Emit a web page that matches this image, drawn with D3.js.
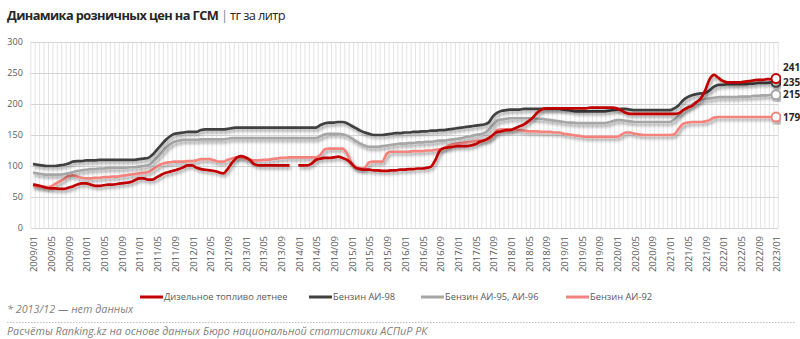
<!DOCTYPE html>
<html><head><meta charset="utf-8">
<script src="https://cdn.jsdelivr.net/npm/d3@7"></script>
<style>
body{margin:0;background:#fff;}
text{font-family:"Open Sans",sans-serif;}
</style></head>
<body><svg id="c" width="800" height="339"></svg>
<script>
const years = [2009,2010,2011,2012,2013,2014,2015,2016,2017,2018,2019,2020,2021,2022,2023];
const monthCodes = ["01","02","03","04","05","06","07","08","09","10","11","12"];
const tickLabels = ["2009/01","2009/05","2009/09","2010/01","2010/05","2010/09","2011/01","2011/05","2011/09","2012/01","2012/05","2012/09","2013/01","2013/05","2013/09","2014/01","2014/05","2014/09","2015/01","2015/05","2015/09","2016/01","2016/05","2016/09","2017/01","2017/05","2017/09","2018/01","2018/05","2018/09","2019/01","2019/05","2019/09","2020/01","2020/05","2020/09","2021/01","2021/05","2021/09","2022/01","2022/05","2022/09","2023/01"];
const yTicks = [0,50,100,150,200,250,300];
const seriesNames = ["Дизельное топливо летнее","Бензин АИ-98","Бензин АИ-95, АИ-96","Бензин АИ-92"];
const seriesColors = ["#c00000","#404040","#a6a6a6","#f4837d"];

const diesel = [
70,69,67,65,64,64,63,63,65,67,70,72,
72,70,68,68,69,70,70,71,72,73,74,77,
80,80,78,78,82,86,89,91,93,95,98,101,
101,97,95,94,93,92,90,88,95,105,113,116,
114,110,103,101,101,101,101,101,101,101,101,null,
101,101,101,104,110,112,113,113,114,115,113,110,
104,97,95,94,94,93,93,92,92,93,93,94,
94,95,95,96,96,97,99,110,125,129,130,131,
132,132,132,133,135,139,141,145,150,155,156,158,
158,161,164,167,172,178,186,191,193,193,193,193,
193,193,193,193,193,193,194,194,194,194,194,194,
193,190,186,184,184,184,184,184,184,184,184,184,
184,184,185,190,194,197,203,209,222,240,247,242,
237,235,235,235,235,236,237,238,239,239,240,240,
241];
const ai98 = [
103,102,101,100,100,100,101,102,104,107,108,108,
109,109,109,110,110,110,110,110,110,110,110,110,
111,112,113,118,126,134,142,148,152,153,154,155,
155,155,158,159,159,159,159,159,160,161,162,162,
162,162,162,162,162,162,162,162,162,162,162,162,
162,162,162,162,162,166,169,170,170,171,171,169,
165,161,157,154,152,150,150,150,151,152,153,153,
154,154,155,155,156,156,157,157,158,158,159,160,
161,162,163,164,165,166,167,170,180,186,189,190,
191,191,191,192,192,192,192,192,192,192,192,192,
191,190,189,188,188,188,188,188,188,188,189,190,
191,192,192,191,190,190,190,190,190,190,190,190,
190,193,198,206,211,214,216,217,218,222,228,231,
231,232,232,232,232,232,233,233,234,234,234,235,
235];
const ai95 = [
89,88,87,86,86,86,86,87,88,90,92,93,
94,95,95,96,96,97,97,97,97,97,98,98,
99,100,101,106,113,121,129,135,139,141,142,142,
142,142,143,143,143,143,143,143,144,145,145,145,
145,145,145,145,145,145,145,145,145,145,145,145,
145,145,145,145,145,148,151,152,152,152,151,149,
145,140,136,133,131,131,131,132,133,134,135,136,
136,137,137,138,138,139,139,140,141,141,142,143,
144,145,147,148,150,151,153,158,166,173,175,176,
177,177,177,177,177,177,176,176,175,174,173,172,
171,170,170,169,169,169,169,169,169,169,170,172,
174,174,173,172,171,171,171,171,171,171,171,171,
171,175,182,190,195,199,203,206,208,209,210,211,
211,211,211,211,212,212,212,213,213,214,214,215,
215];
const ai92 = [
68,67,67,66,67,71,75,79,84,85,83,81,
80,80,81,81,82,82,83,83,84,85,86,87,
88,89,90,94,99,103,105,106,107,107,107,108,
108,109,111,111,111,109,107,107,110,112,114,114,
112,110,109,109,110,110,111,112,113,113,114,114,
114,114,114,114,114,118,127,128,128,128,128,120,
105,98,96,97,106,107,107,107,120,123,123,123,
123,123,124,124,124,125,125,126,127,129,133,135,
136,137,138,139,140,141,142,143,150,158,159,159,
159,159,158,157,156,156,156,155,155,155,154,154,
152,151,150,149,148,147,147,147,147,147,147,147,
147,150,154,154,152,151,150,150,150,150,150,150,
150,151,160,168,170,171,171,171,172,174,178,179,
179,179,179,179,179,179,179,179,179,179,179,179,
179];
const endLabels = ["241","235","215","179"];

const categories = [];
years.forEach(y => monthCodes.forEach(m => { if (y < 2023 || m === "01") categories.push(y + "/" + m); }));

const svg = d3.select("#c");
const x = d3.scalePoint().domain(categories).range([33, 776]);
const step = x.step();
const y = d3.scaleLinear().domain([0, 300]).range([228, 42]);

const defs = svg.append("defs");
const f = defs.append("filter").attr("id","sh").attr("x","-5%").attr("y","-20%").attr("width","110%").attr("height","150%");
f.append("feDropShadow").attr("dx",1.5).attr("dy",2.5).attr("stdDeviation",1.4).attr("flood-color","#000").attr("flood-opacity",0.35);

// title
const title = svg.append("text").attr("x",7).attr("y",20).style("font-size","12.8px").style("letter-spacing","-0.6px").attr("fill","#262626");
title.append("tspan").style("font-weight","700").text("Динамика розничных цен на ГСМ");
title.append("tspan").attr("fill","#7f7f7f").text(" | ");
title.append("tspan").text("тг за литр");

// vertical grid
const g = svg.append("g");
g.selectAll("line.v").data(d3.range(categories.length + 1)).enter().append("line")
  .attr("x1", i => 33 + (i - 0.5) * step).attr("x2", i => 33 + (i - 0.5) * step)
  .attr("y1", y(300)).attr("y2", y(0)).attr("stroke","#e3e3e3").attr("stroke-width",1);

// y axis with grid
const yAxis = svg.append("g").attr("transform","translate(" + (33 - 0.5*step) + ",0)")
  .call(d3.axisLeft(y).tickValues(yTicks).tickSize(-(743 + step)).tickPadding(8));
yAxis.select(".domain").remove();
yAxis.selectAll(".tick line").attr("stroke","#d4d4d4");
yAxis.selectAll(".tick text").attr("fill","#595959").style("font-size","9px");

// x axis
const xAxis = svg.append("g").attr("transform","translate(0," + y(0) + ")")
  .call(d3.axisBottom(x).tickValues(tickLabels).tickSize(0));
xAxis.select(".domain").remove();
xAxis.selectAll(".tick text").attr("fill","#595959").style("font-size","9.5px")
  .attr("transform","rotate(-90)").attr("text-anchor","end")
  .attr("x",-8).attr("y",0).attr("dy","0.35em").attr("dx",0);
xAxis.selectAll(".tick").attr("transform", d => "translate(" + (x(d) + 1) + ",0)");

// lines
const allSeries = [diesel, ai98, ai95, ai92];
const order = [3,2,1,0];
const line = d3.line().defined(d => d != null).x((d,i) => x(categories[i])).y(d => y(d)).curve(d3.curveMonotoneX);
const lg = svg.append("g");
order.forEach(k => {
  lg.append("path").datum(allSeries[k]).attr("d", line).attr("fill","none")
    .attr("stroke", seriesColors[k]).attr("stroke-width",2.7).attr("stroke-linejoin","round")
    .attr("filter","url(#sh)");
});
const last = categories[categories.length - 1];
const labelOffsets = [-11, 0, 0, 0];
order.forEach(k => {
  const v = allSeries[k][allSeries[k].length - 1];
  lg.append("circle").attr("cx", x(last)).attr("cy", y(v)).attr("r",4.5)
    .attr("fill","#fff").attr("stroke",seriesColors[k]).attr("stroke-width",2).attr("filter","url(#sh)");
  svg.append("text").attr("x", x(last) + 7).attr("y", y(v) + labelOffsets[k]).attr("dy","0.35em")
    .style("font-size","10px").style("font-weight","700").attr("fill","#262626").text(endLabels[k]);
});

// legend
const legX = [140, 309, 421, 566];
seriesNames.forEach((n, k) => {
  const lgi = svg.append("g");
  lgi.append("line").attr("x1", legX[k]).attr("x2", legX[k] + 23).attr("y1", 297).attr("y2", 297)
    .attr("stroke", seriesColors[k]).attr("stroke-width",3);
  lgi.append("text").attr("x", legX[k] + 24).attr("y", 297).attr("dy","0.35em")
    .style("font-size","9.3px").attr("fill","#595959").text(n);
});

// footnotes
svg.append("text").attr("x",7).attr("y",313).style("font-size","10.8px").style("font-style","italic")
  .attr("fill","#7f7f7f").text("* 2013/12 — нет данных");
svg.append("line").attr("x1",7).attr("x2",795).attr("y1",322.5).attr("y2",322.5)
  .attr("stroke","#bfbfbf").attr("stroke-dasharray","1.5,1.5");
svg.append("text").attr("x",7).attr("y",335).style("font-size","10.8px").style("font-style","italic")
  .attr("fill","#7f7f7f").text("Расчёты Ranking.kz на основе данных Бюро национальной статистики АСПиР РК");
</script></body></html>
